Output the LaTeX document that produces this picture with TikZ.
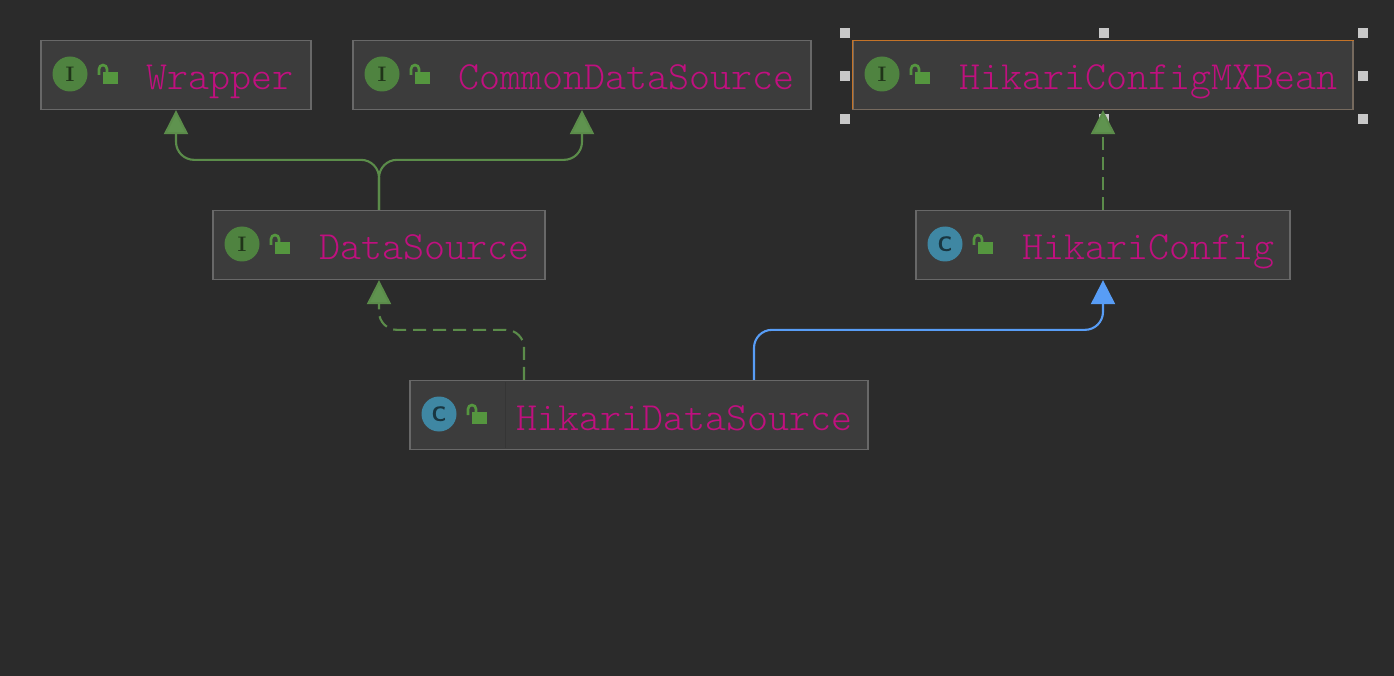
\documentclass[tikz,border=0pt]{standalone}
\usetikzlibrary{arrows.meta}
\definecolor{canvasbg}{HTML}{2B2B2B}
\definecolor{boxfill}{HTML}{3C3C3C}
\definecolor{boxline}{HTML}{686868}
\definecolor{namecol}{HTML}{C0107F}
\definecolor{greenline}{HTML}{5B8C4A}
\definecolor{greentip}{HTML}{5F934F}
\definecolor{blueline}{HTML}{589DF6}
\definecolor{ifacecol}{HTML}{4F8340}
\definecolor{classcol}{HTML}{3F87A3}
\definecolor{lockcol}{HTML}{55963F}
\definecolor{selcol}{HTML}{C47328}
\definecolor{handlecol}{HTML}{C8C8C8}
\tikzset{
  umlbox/.style={draw=boxline, fill=boxfill, line width=1.3pt, minimum height=69pt, inner sep=0pt},
  umlname/.style={anchor=base west, inner sep=0pt, text=namecol, font=\fontsize{40}{40}\ttfamily\fontseries{l}\selectfont},
  iface/.style={circle, fill=ifacecol, minimum size=35pt, inner sep=0pt, text=black!60!ifacecol, font=\fontsize{21}{21}\rmfamily\bfseries\selectfont},
  klass/.style={iface, fill=classcol, text=black!60!classcol, font=\fontsize{21}{21}\sffamily\bfseries\selectfont},
  handle/.style={fill=handlecol, minimum size=10pt, inner sep=0pt},
  inherit/.style={line width=2.1pt, rounded corners=18pt, -{Triangle[width=24pt,length=24pt]}},
  lockicon/.pic={
    \fill[lockcol] (-7.5,-6) rectangle (8,6);
    \draw[lockcol, line width=2.6pt] (-11,-3) -- (-11,-9) arc (180:360:4) -- (-3,-6);
  }
}
\begin{document}
\begin{tikzpicture}[x=1pt, y=-1pt]
    \useasboundingbox[fill=canvasbg] (0,0) rectangle (1394,676);

    % Selection handles
    \foreach \hx/\hy/\hname in {845/33/a, 1104/33/b, 1363/33/c, 845/76/d, 1363/76/e, 845/119/f, 1104/119/g, 1363/119/h}
        \node[handle] (handle\hname) at (\hx,\hy) {};

    % Boxes
    \node[umlbox, minimum width=270pt] (Wrapper) at (176,75) {};
    \node[umlbox, minimum width=458pt] (CommonDataSource) at (582,75) {};
    \node[umlbox, draw=selcol!15!boxline, minimum width=500pt] (MXBean) at (1103,75) {};
    \node[umlbox, minimum width=332pt] (DataSource) at (379,245) {};
    \node[umlbox, minimum width=374pt] (HikariConfig) at (1103,245) {};
    \node[umlbox, minimum width=458pt] (HikariDataSource) at (639,415) {};

    % Selected box outline
    \draw[selcol, line width=1.6pt] (852.5,109.5) -- (852.5,40.5) -- (1353.5,40.5);

    % Divider in the last box
    \draw[black!12!boxfill, line width=1pt] (505.5,382) -- (505.5,448);

    % Icons
    \node[iface] (iconWrapper) at (70,74) {I};
    \node[iface] (iconCommon) at (382,74) {I};
    \node[iface] (iconMXBean) at (882,74) {I};
    \node[iface] (iconDataSource) at (242,244) {I};
    \node[klass] (iconConfig) at (945,244) {C};
    \node[klass] (iconHikari) at (439,414) {C};

    % Locks
    \pic at (110,78) {lockicon};
    \pic at (422,78) {lockicon};
    \pic at (922,78) {lockicon};
    \pic at (282,248) {lockicon};
    \pic at (985,248) {lockicon};
    \pic at (479,418) {lockicon};

    % Names
    \node[umlname] (nameWrapper) at (146.5,90) {Wrapper};
    \node[umlname] (nameCommon) at (458.5,90) {CommonDataSource};
    \node[umlname] (nameMXBean) at (959.5,90) {HikariConfigMXBean};
    \node[umlname] (nameDataSource) at (319.5,260) {DataSource};
    \node[umlname] (nameConfig) at (1022.5,260) {HikariConfig};
    \node[umlname] (nameHikari) at (516.5,430) {HikariDataSource};

    % Connectors
    \draw[inherit, greenline, -{Triangle[width=24pt,length=24pt,fill=greentip]}] (DataSource.north) -- ++(0,-50) -| (Wrapper.south);
    \draw[inherit, greenline, -{Triangle[width=24pt,length=24pt,fill=greentip]}] (DataSource.north) -- ++(0,-50) -| (CommonDataSource.south);
    \draw[inherit, greenline, dash pattern=on 13pt off 7pt, -{Triangle[width=24pt,length=24pt,fill=greentip]}] (HikariConfig.north) -- (MXBean.south);
    \draw[inherit, greenline, dash pattern=on 13pt off 7pt, -{Triangle[width=24pt,length=24pt,fill=greentip]}] ([xshift=-115pt]HikariDataSource.north) -- ++(0,-50) -| (DataSource.south);
    \draw[inherit, blueline] ([xshift=115pt]HikariDataSource.north) -- ++(0,-50) -| (HikariConfig.south);
\end{tikzpicture}
\end{document}
